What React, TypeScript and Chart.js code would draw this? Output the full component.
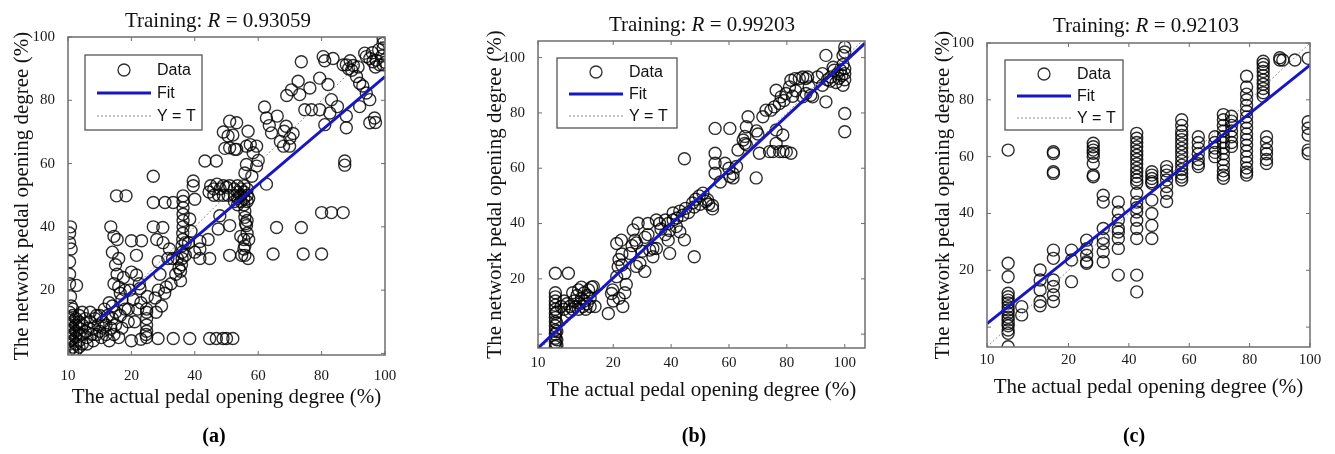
import React, { useEffect, useRef } from "react";
import { Chart, registerables } from "chart.js";

Chart.register(...registerables);

// ---------- DATA ----------
const xAxisTitle = "The actual pedal opening degree (%)";
const yAxisTitle = "The network pedal opening degree (%)";
const rValues = ["0.93059", "0.99203", "0.92103"];
const panelLabels = ["(a)", "(b)", "(c)"];
const legendLabels = ["Data", "Fit", "Y = T"];

const xTicksA = [0, 20, 40, 60, 80, 100];
const xTicksB = [-6, 20, 40, 60, 80, 100];
const xTicksC = [-7, 20, 40, 60, 80, 100];
const xTickLabels = ["10", "20", "40", "60", "80", "100"];
const yTicks = [0, 20, 40, 60, 80, 100];
const yTickLabels = ["", "20", "40", "60", "80", "100"];

const fitAX = [10, 100];
const fitAY = [11, 87.5];
const fitBX = [-6, 107];
const fitBY = [-5, 105.2];
const fitCX = [-7, 100];
const fitCY = [1.2, 92.2];

const identA = [0, 100];
const identB = [-6, 106];
const identC = [-7, 100];

const dataA: [number, number][] = [
  [0.5, 1], [0.5, 3], [0.5, 5], [0.5, 7], [0.5, 9], [0.5, 11], [0.5, 13], [1.5, 0.5], [1.5, 2], [1.5, 4],
  [1.5, 6], [1.5, 8], [1.5, 10], [1.5, 12], [1.5, 14], [2.5, 1], [2.5, 3], [2.5, 5], [2.5, 7], [2.5, 9],
  [2.5, 11], [3.5, 2], [3.5, 4], [3.5, 6], [3.5, 8], [3.5, 10], [3.5, 12], [1, 15], [0.8, 18], [0.5, 22],
  [0.5, 25], [0.5, 35], [0.5, 38], [0.8, 40], [1, 33], [4.5, 3], [4.5, 6], [4.5, 9], [4.5, 13], [5.5, 7],
  [2.7, 21.5], [0.5, 29],
  [6, 5], [6.5, 8], [7, 10], [7.5, 6], [8, 4], [8, 8], [8.5, 11], [9, 6], [9.5, 9], [10, 7],
  [10, 12], [10.5, 5], [11, 8], [11, 10], [11.5, 14], [12, 6], [12, 9], [12.5, 12], [13, 4], [13, 16],
  [13.5, 8], [14, 11], [14, 15], [14.5, 6], [15, 13], [15, 9], [7, 13], [9, 12], [5.5, 11], [6, 3],
  [13.5, 40], [14.5, 37], [15.5, 36], [14, 32], [15, 28], [15.5, 25], [14.5, 22], [16, 21], [16.5, 19], [17, 17],
  [15.3, 49.8], [18.3, 49.8], [17.5, 24], [16, 30], [18, 14], [19, 10], [16.5, 12], [18, 20], [17, 8], [16, 5],
  [20, 35.6], [23.2, 35.6], [21.6, 31], [20, 25.7], [21.6, 24.8], [22.7, 20.5], [20.6, 17], [24.8, 14], [24.8, 11], [24.8, 9],
  [24.8, 7], [24.6, 6], [24.8, 13], [24.8, 5], [23, 16], [22, 14], [21, 10], [19.5, 20], [20, 4], [23, 4.5],
  [19, 14], [22.5, 22], [25, 18],
  [26.9, 56], [26.9, 47.7], [30.6, 47.7], [33.2, 47.7], [26.9, 40], [29.9, 39.8], [28, 36], [30, 35], [31.5, 30], [28.5, 29],
  [29, 25], [31, 21], [28.5, 20], [30.5, 19], [32.5, 22], [27.5, 17.5], [27.8, 13], [28.4, 4.7], [33.2, 4.7], [34, 25],
  [33, 30], [32, 33], [29.5, 15],
  [35.5, 23], [35.5, 26], [35.8, 28], [36, 30], [36, 32], [36, 34], [36.2, 36], [36.2, 38], [36.3, 40], [36.3, 42],
  [36.3, 44], [36.3, 46], [36.3, 48], [36.3, 49.8], [35, 27], [34.5, 30], [37, 31], [37, 35], [38.4, 4.7],
  [39.5, 54.5], [39.5, 53], [40, 48.7], [38.4, 42.5], [38.8, 38.6], [38, 35], [41.6, 35.4], [41.6, 33], [41.6, 30], [44.7, 30],
  [44.2, 36], [40, 32], [43.2, 60.8], [46.8, 60.8],
  [45, 53], [46, 52], [47, 53.5], [48, 52], [49, 53], [50, 52.5], [51, 53], [44.5, 51], [46, 50], [47.5, 50],
  [49, 50], [50.5, 50], [47.9, 43.5], [47.4, 39.3], [51, 40.4], [51, 31], [44.7, 4.7], [46.8, 4.7], [48.9, 4.7], [50, 4.7],
  [52, 4.7], [50.5, 68.7], [51, 73.4], [53.2, 72.9], [52, 69], [49, 70], [52.6, 64.5], [49.5, 64.8], [51, 65],
  [52.5, 48], [52.5, 50], [52.5, 52], [53.5, 47], [53.5, 49], [53.5, 51], [53.5, 53], [54.5, 48], [54.5, 50], [54.5, 52],
  [55.5, 47], [55.5, 49], [55.5, 51], [55.5, 53], [56.5, 48], [56.5, 50], [56.5, 52], [57, 49],
  [55.8, 45], [55.8, 43], [56, 41], [56.3, 40.4], [56.5, 38], [55.5, 36], [55.8, 34], [55.8, 31], [54.8, 31], [56.8, 30],
  [55.5, 33], [56.5, 42], [57, 36], [54.5, 37],
  [53.2, 64.5], [56.3, 65.5], [56.8, 70.2], [55.8, 57], [56.3, 59.7], [59.5, 59.2], [58.4, 63.4], [59.5, 65.5], [62.6, 53.5], [64.2, 69.7],
  [62, 77.9], [62.6, 74.4], [63.5, 72], [58, 56], [60, 61], [57.5, 66],
  [65.8, 39.8], [64.7, 31.4], [73.6, 39.8], [74.2, 31.4], [67, 67], [68, 65.5], [68.8, 71.8], [68.2, 70.2], [69.9, 65.5], [70.5, 83.3],
  [72.6, 86], [73.1, 81.8], [73.6, 92.2], [76.3, 83.9], [74.7, 77], [76.8, 77], [70, 68], [71, 69.5], [66, 75], [69, 81.5],
  [79.4, 77], [79.4, 87], [81, 72.3], [83.1, 80.2], [82.6, 76], [80.5, 93.8], [81, 92.5], [83.6, 93.2], [86.8, 91.2], [80, 31.4],
  [80, 44.5], [83.1, 44.5], [86.8, 44.5], [87.3, 60.8], [87.3, 59.5], [85, 78], [82, 85],
  [87.8, 91.2], [88.5, 90], [89.5, 89.5], [91, 87.5], [92, 85.4], [93, 84.5], [94.1, 82.3], [87.8, 75], [87.8, 71.3], [92, 78],
  [95.2, 80.2], [95.2, 72.9], [96.7, 74.4], [97, 73], [93.6, 94.9], [94.1, 93.8], [95.2, 93.2], [96.2, 92.2], [97.2, 92.7], [98.3, 91.2],
  [99.4, 91.2], [99.4, 99.6], [99.4, 98], [99.4, 96.5], [99, 94], [98, 96], [90, 91], [89, 92.5], [91.5, 90.5], [96, 95],
  [97, 90.5], [100, 92],
];

const dataB: [number, number][] = [
  [0, -4.5], [0, -3], [0, -1.5], [0, 0], [0, 1.5], [0, 3], [0, 4.5], [0, 6], [0, 7.5], [0, 9],
  [0, 10.5], [0, 12], [0, 13.5], [0.5, -4], [0.5, -2], [0.5, 1], [0.5, 4], [0.5, 8], [0, 15], [0, 22],
  [4.5, 22],
  [2, 10], [3, 9], [4, 11], [5, 10], [6, 9], [6.5, 12], [7, 10], [7.5, 14], [8, 9], [8.5, 11],
  [9, 13], [9.5, 10], [10, 12], [10, 15], [10.5, 9], [11, 11], [11, 14], [11.5, 16], [12, 10], [12, 13],
  [12.5, 17], [13.1, 17.2], [13.7, 10], [8, 16], [9, 17], [6, 15], [3, 12], [5, 8],
  [18.3, 7.5], [19.4, 14.7], [19.8, 16], [21.2, 20.8], [21.7, 24.4], [21.2, 32.8], [22.8, 34], [23, 29], [24, 22], [24.5, 18],
  [23.3, 10], [22, 13], [20, 12], [23, 25], [22, 27], [24, 15],
  [26.9, 37.7], [28.6, 40.1], [27.5, 34], [29.2, 25.6], [28, 24.5], [25.8, 29.2], [30.9, 22.7], [32, 36], [32.6, 30.4], [33.7, 31],
  [34.9, 31], [33.7, 28], [32, 40], [34.9, 41.3], [36, 40], [28, 33], [26.5, 32], [30, 30], [31, 35],
  [38, 41.3], [39, 40], [40.7, 41.3], [39.5, 37.5], [38, 36], [39, 34], [39.5, 29.2], [41.8, 38.9], [43, 37], [44.6, 34.1],
  [44.6, 63.4], [48, 28], [40.7, 43.8], [43, 44.5], [45, 45.5], [47.4, 47.4], [48.5, 48.8], [49.7, 50], [51, 51], [52, 48],
  [53, 47], [54.3, 45.3], [54.3, 46.5], [52.6, 48.6], [42, 42], [44, 43], [46, 44], [48, 46], [50, 47], [36.5, 38],
  [55.2, 74.4], [55.2, 65.4], [55.2, 61.8], [55.2, 58.2], [60.3, 74.4], [58.6, 61.8], [60.3, 57], [61.4, 58], [61.4, 56.5], [62.6, 60.6],
  [63.1, 66.6], [64.9, 70.2], [65.5, 69], [65.5, 71.5], [66, 68.5], [66, 75], [66.6, 78.6], [69.4, 56.5], [70, 72.4], [69.5, 73.5],
  [70.5, 65.4], [71.7, 78.6], [60, 60], [57, 55],
  [72.8, 81], [74.5, 81], [75.7, 82.2], [76.3, 88.2], [77.4, 83.4], [78, 85.8], [79, 84.5], [79.7, 87], [80.9, 89.4], [76.3, 73.8],
  [76.3, 69], [74, 66], [75.2, 66], [77.5, 66], [78.7, 66], [79.8, 66], [81.4, 65.4], [78.6, 72], [82, 86], [83, 88],
  [81.4, 91.8], [82.8, 92.4], [84.3, 92.4], [85.5, 93], [86.5, 92.4], [87.2, 93], [85.5, 85.8], [86.6, 87], [87.7, 89.4], [88.3, 86.4],
  [88.9, 85.8], [90.6, 93], [92.3, 94.2], [93.5, 100.8], [93.5, 84], [92.3, 90], [95.2, 93], [96.3, 95.4], [97.5, 94.2], [98, 92.5],
  [99, 93.5], [100, 94.2], [100, 92], [100, 96], [99.4, 97.5], [98.5, 95.5], [97, 91], [95, 91.5], [100, 79.8], [100, 73.2],
  [99.4, 100.8], [100, 103.8], [100, 102], [99.4, 90], [96, 96.5], [94, 92],
];

const dataC: [number, number][] = [
  [0, -6.9], [0, -2.2], [0, -1], [0, 0.5], [0, 1.3], [0, 2.5], [0, 3.5], [0, 4.9], [0, 6], [0, 7.2],
  [0, 8.5], [0, 9.5], [0, 10.7], [0, 11.9], [0, 17.7], [0, 22.5], [0, 62.3],
  [4.5, 7.2], [4.5, 4.3],
  [10.6, 20.1], [10.6, 16.6], [10.6, 13.1], [10.6, 9], [10.6, 7.5],
  [15, 61.7], [15, 61.1], [15, 54.7], [15, 54.1], [15, 27.1], [15, 24.2], [15, 16.6], [15, 14.3], [15, 11.4], [15, 9],
  [21, 27.1], [21, 23.6], [21, 16],
  [26, 30.6], [26, 27.6], [26, 25.3], [26, 23], [26, 22.5],
  [28.2, 64.7], [28.2, 63.5], [28.2, 62.3], [28.2, 61.2], [28.2, 60], [28.2, 57.6], [28.2, 53.5], [28.2, 52.9],
  [31.5, 46.4], [31.5, 44], [31.5, 34.7], [31.5, 31.2], [31.5, 29.4], [31.5, 26.5], [31.5, 23],
  [36.5, 44], [36.5, 40.5], [36.5, 37.6], [36.5, 34.7], [36.5, 33.5], [36.5, 31.2], [36.5, 27.7], [36.5, 18.3],
  [42.6, 68.2], [42.6, 66.5], [42.6, 65], [42.6, 63.5], [42.6, 62], [42.6, 60.5], [42.6, 59], [42.6, 57.5], [42.6, 56], [42.6, 54.5],
  [42.6, 53], [42.6, 51.8], [42.6, 50.6], [42.6, 47.1], [42.6, 44], [42.6, 42], [42.6, 40.5], [42.6, 37.6], [42.6, 34.7], [42.6, 31.2],
  [42.6, 18.3], [42.6, 12.4],
  [47.6, 54.7], [47.6, 53.5], [47.6, 52.3], [47.6, 51.2], [47.6, 50.6], [47.6, 44.7], [47.6, 40], [47.6, 35.8], [47.6, 31.2],
  [52.5, 56.5], [52.5, 55], [52.5, 53.5], [52.5, 51.8], [52.5, 49.5], [52.5, 47.1], [52.5, 44.2],
  [57.5, 73], [57.5, 71], [57.5, 69], [57.5, 67.5], [57.5, 66], [57.5, 64.5], [57.5, 63], [57.5, 61.5], [57.5, 60], [57.5, 58.5],
  [57.5, 57], [57.5, 55.5], [57.5, 54], [57.5, 52.8], [57.5, 51.8],
  [63, 67], [63, 65], [63, 63], [63, 61], [63, 59], [63, 57.5], [63, 56.5],
  [68.5, 67], [68.5, 65], [68.5, 63], [68.5, 61.5], [68.5, 60],
  [71.3, 74.8], [71.3, 73], [71.3, 71], [71.3, 69], [71.3, 67], [71.3, 65], [71.3, 63], [71.3, 61], [71.3, 59], [71.3, 57],
  [71.3, 55], [71.3, 53.5], [71.3, 52.4],
  [74, 74.2], [74, 72.5], [74, 71], [74, 69], [74, 67], [74, 65], [74, 63.6],
  [79, 88.3], [79, 84.5], [79, 82], [79, 80], [79, 78], [79, 76], [79, 74], [79, 72], [79, 70], [79, 68],
  [79, 66], [79, 64], [79, 62], [79, 60], [79, 58], [79, 56], [79, 54.5], [79, 53.5],
  [84.5, 93.6], [84.5, 92.5], [84.5, 91.3], [84.5, 90], [84.5, 88.5], [84.5, 87], [84.5, 85.5], [84.5, 84], [84.5, 82.5], [84.5, 81.3],
  [85.6, 67], [85.6, 65], [85.6, 62.5], [85.6, 61], [85.6, 59], [85.6, 57.6],
  [90, 94], [90, 94.8], [91, 94], [95, 94],
  [99.4, 94.6], [99.4, 72.3], [99.4, 70], [99.4, 67.6], [99.4, 62.3], [99.4, 61.1],
];

// ---------- LAYOUT / STYLE ----------
type Panel = {
  offset: number;
  data: [number, number][];
  fitX: number[]; fitY: number[]; ident: number[];
  xTicks: number[];
  xMin: number; xMax: number; yMin: number; yMax: number;
  top: number; right: number; yAxisW: number; xAxisH: number;
  xTitlePad: number; yTitlePad: number; xTickPad: number;
  titleX: number; titleY: number; labelX: number; labelY: number;
  legDx: number; legDy: number; legW: number; legH: number; legRows: number[];
  r: string; label: string;
};

const panels: Panel[] = [
  {
    offset: 0, data: dataA, fitX: fitAX, fitY: fitAY, ident: identA, xTicks: xTicksA,
    xMin: 0, xMax: 100, yMin: -0.5, yMax: 100,
    top: 37, right: 60, yAxisW: 68, xAxisH: 99,
    xTitlePad: 44.4, yTitlePad: 9.4, xTickPad: 4,
    titleX: 218, titleY: 21, labelX: 214, labelY: 437,
    legDx: 17, legDy: 18, legW: 117, legH: 75, legRows: [15, 38, 61],
    r: rValues[0], label: panelLabels[0],
  },
  {
    offset: 445, data: dataB, fitX: fitBX, fitY: fitBY, ident: identB, xTicks: xTicksB,
    xMin: -6, xMax: 107, yMin: -5, yMax: 106,
    top: 41, right: 25, yAxisW: 93, xAxisH: 106,
    xTitlePad: 51.4, yTitlePad: 37.4, xTickPad: -2,
    titleX: 702, titleY: 25, labelX: 694, labelY: 437,
    legDx: 19, legDy: 17, legW: 120, legH: 70, legRows: [14, 36, 58],
    r: rValues[1], label: panelLabels[1],
  },
  {
    offset: 890, data: dataC, fitX: fitCX, fitY: fitCY, ident: identC, xTicks: xTicksC,
    xMin: -7, xMax: 100, yMin: -7, yMax: 100,
    top: 43, right: 25, yAxisW: 97, xAxisH: 107,
    xTitlePad: 54.4, yTitlePad: 40.4, xTickPad: -4,
    titleX: 1146, titleY: 26, labelX: 1134, labelY: 437,
    legDx: 18, legDy: 17, legW: 118, legH: 70, legRows: [14, 36, 58],
    r: rValues[2], label: panelLabels[2],
  },
];

const SERIF = '"Liberation Serif", "Times New Roman", serif';
const SANS = '"Liberation Sans", Arial, sans-serif';
const FIT_COLOR = "#1616c4";
const IDENT_COLOR = "#8c8c8c";
const MARKER_COLOR = "rgba(0,0,0,0.82)";
const FRAME_COLOR = "#6e6e6e";
const TITLE_SIZE = 21;

function decorPlugin(p: Panel) {
  return {
    id: "decor" + p.offset,
    afterDraw(chart: any) {
      const ctx = chart.ctx as CanvasRenderingContext2D;
      const a = chart.chartArea;
      const xs = chart.scales.x;
      const ys = chart.scales.y;
      ctx.save();
      // frame
      ctx.strokeStyle = FRAME_COLOR;
      ctx.lineWidth = 1.5;
      ctx.strokeRect(a.left, a.top, a.right - a.left, a.bottom - a.top);
      // inward ticks on all sides
      ctx.lineWidth = 1;
      ctx.beginPath();
      xs.ticks.forEach((t: any) => {
        const px = xs.getPixelForValue(t.value);
        ctx.moveTo(px, a.bottom); ctx.lineTo(px, a.bottom - 4);
        ctx.moveTo(px, a.top); ctx.lineTo(px, a.top + 4);
      });
      ys.ticks.forEach((t: any) => {
        const py = ys.getPixelForValue(t.value);
        ctx.moveTo(a.left, py); ctx.lineTo(a.left + 4, py);
        ctx.moveTo(a.right, py); ctx.lineTo(a.right - 4, py);
      });
      ctx.stroke();

      // legend
      const lx = a.left + p.legDx;
      const ly = a.top + p.legDy;
      ctx.fillStyle = "#fff";
      ctx.fillRect(lx, ly, p.legW, p.legH);
      ctx.strokeStyle = "#555";
      ctx.lineWidth = 1.3;
      ctx.strokeRect(lx, ly, p.legW, p.legH);
      ctx.strokeStyle = MARKER_COLOR;
      ctx.lineWidth = 1.3;
      ctx.beginPath();
      ctx.arc(lx + 39, ly + p.legRows[0], 6, 0, Math.PI * 2);
      ctx.stroke();
      ctx.strokeStyle = FIT_COLOR;
      ctx.lineWidth = 3;
      ctx.beginPath();
      ctx.moveTo(lx + 12, ly + p.legRows[1]);
      ctx.lineTo(lx + 66, ly + p.legRows[1]);
      ctx.stroke();
      ctx.strokeStyle = IDENT_COLOR;
      ctx.lineWidth = 1;
      ctx.setLineDash([2, 2]);
      ctx.beginPath();
      ctx.moveTo(lx + 12, ly + p.legRows[2]);
      ctx.lineTo(lx + 66, ly + p.legRows[2]);
      ctx.stroke();
      ctx.setLineDash([]);
      ctx.fillStyle = "#111";
      ctx.font = "16px " + SANS;
      ctx.textBaseline = "middle";
      ctx.textAlign = "left";
      legendLabels.forEach((t, i) => ctx.fillText(t, lx + 72, ly + p.legRows[i] + 1));

      // title with italic R
      const parts = [
        { t: "Training: ", f: TITLE_SIZE + "px " + SERIF },
        { t: "R", f: "italic " + TITLE_SIZE + "px " + SERIF },
        { t: " = " + p.r, f: TITLE_SIZE + "px " + SERIF },
      ];
      let total = 0;
      parts.forEach((q) => { ctx.font = q.f; total += ctx.measureText(q.t).width; });
      let x = p.titleX - p.offset - total / 2;
      ctx.fillStyle = "#111";
      parts.forEach((q) => {
        ctx.font = q.f;
        ctx.fillText(q.t, x, p.titleY);
        x += ctx.measureText(q.t).width;
      });

      // sub-figure label
      ctx.font = "bold 20px " + SERIF;
      ctx.textAlign = "center";
      ctx.fillStyle = "#000";
      ctx.fillText(p.label, p.labelX - p.offset, p.labelY);
      ctx.restore();
    },
  };
}

function makeChart(canvas: HTMLCanvasElement, p: Panel) {
  const tickFont = { family: SERIF, size: 15 };
  return new Chart(canvas, {
    type: "scatter",
    data: {
      datasets: [
        {
          label: "Fit",
          data: p.fitX.map((x, i) => ({ x, y: p.fitY[i] })),
          showLine: true,
          borderColor: FIT_COLOR,
          borderWidth: 3,
          pointRadius: 0,
          order: 1,
          clip: 0,
        } as any,
        {
          label: "Y = T",
          data: p.ident.map((v) => ({ x: v, y: v })),
          showLine: true,
          borderColor: IDENT_COLOR,
          borderWidth: 1,
          borderDash: [2, 2],
          pointRadius: 0,
          order: 2,
          clip: 0,
        } as any,
        {
          label: "Data",
          data: p.data.map(([x, y]) => ({ x, y })),
          showLine: false,
          pointStyle: "circle",
          pointRadius: 6,
          pointBorderWidth: 1.4,
          pointBorderColor: MARKER_COLOR,
          pointBackgroundColor: "rgba(0,0,0,0)",
          order: 3,
          clip: 0,
        } as any,
      ],
    },
    options: {
      animation: false,
      responsive: false,
      maintainAspectRatio: false,
      events: [],
      layout: { padding: { left: 0, top: p.top, right: p.right, bottom: 0 } },
      plugins: {
        legend: { display: false },
        tooltip: { enabled: false },
        title: { display: false },
      },
      scales: {
        x: {
          type: "linear",
          min: p.xMin,
          max: p.xMax,
          grid: { display: false },
          border: { display: false },
          afterBuildTicks: (s: any) => { s.ticks = p.xTicks.map((v) => ({ value: v })); },
          afterFit: (s: any) => { s.height = p.xAxisH; },
          ticks: {
            autoSkip: false,
            maxRotation: 0,
            padding: p.xTickPad,
            color: "#1a1a1a",
            font: tickFont,
            callback: (_v: any, i: number) => xTickLabels[i],
          },
          title: {
            display: true,
            text: xAxisTitle,
            color: "#111",
            font: { family: SERIF, size: TITLE_SIZE },
            padding: { top: 0, bottom: p.xTitlePad },
          },
        },
        y: {
          type: "linear",
          min: p.yMin,
          max: p.yMax,
          grid: { display: false },
          border: { display: false },
          afterBuildTicks: (s: any) => { s.ticks = yTicks.map((v) => ({ value: v })); },
          afterFit: (s: any) => { s.width = p.yAxisW; },
          ticks: {
            autoSkip: false,
            padding: 5,
            color: "#1a1a1a",
            font: tickFont,
            callback: (_v: any, i: number) => yTickLabels[i],
          },
          title: {
            display: true,
            text: yAxisTitle,
            color: "#111",
            font: { family: SERIF, size: TITLE_SIZE },
            padding: { top: p.yTitlePad, bottom: 0 },
          },
        },
      },
    } as any,
    plugins: [decorPlugin(p)],
  });
}

function PanelChart({ p }: { p: Panel }) {
  const ref = useRef<HTMLCanvasElement | null>(null);
  useEffect(() => {
    if (!ref.current) return;
    const chart = makeChart(ref.current, p);
    return () => chart.destroy();
  }, [p]);
  return (
    <canvas
      ref={ref}
      width={445}
      height={454}
      style={{ position: "absolute", left: p.offset, top: 0, width: 445, height: 454 }}
    />
  );
}

export default function App() {
  return (
    <div
      style={{
        position: "absolute",
        left: 0,
        top: 0,
        width: 1335,
        height: 454,
        background: "#fff",
        overflow: "hidden",
      }}
    >
      {panels.map((p) => (
        <PanelChart key={p.offset} p={p} />
      ))}
    </div>
  );
}
